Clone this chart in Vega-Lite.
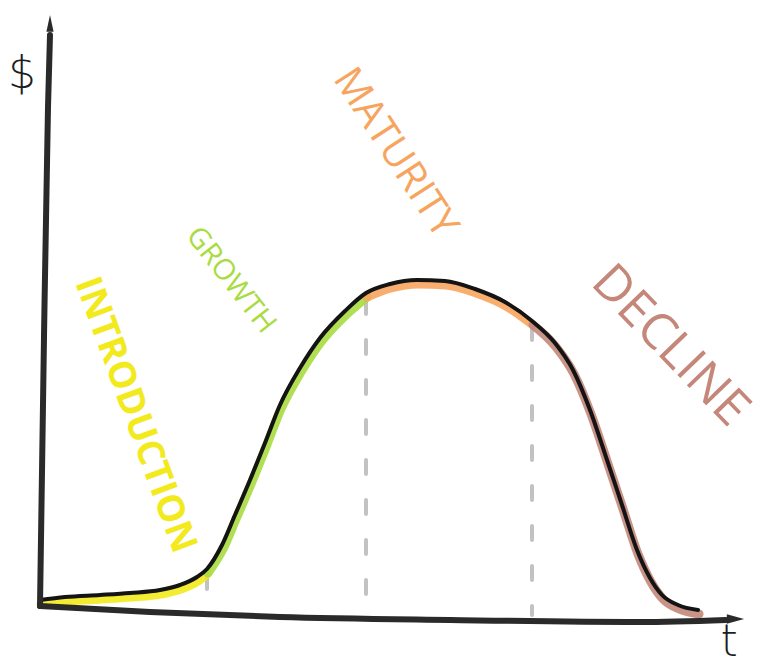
{
  "$schema": "https://vega.github.io/schema/vega-lite/v6.json",
  "autosize": {"type": "fit", "contains": "padding"},
  "width": 774,
  "height": 667,
  "padding": 0,
  "background": "#ffffff",
  "config": {"view": {"stroke": null}},
  "datasets": {
    "curve": [
      {"t": 40, "v": 67, "phase": "intro"},
      {"t": 65, "v": 70, "phase": "intro"},
      {"t": 100, "v": 72, "phase": "intro"},
      {"t": 130, "v": 74, "phase": "intro"},
      {"t": 160, "v": 77, "phase": "intro"},
      {"t": 180, "v": 82, "phase": "intro"},
      {"t": 197, "v": 90, "phase": "intro"},
      {"t": 207, "v": 98, "phase": "intro"},
      {"t": 207, "v": 98, "phase": "growth"},
      {"t": 222, "v": 122, "phase": "growth"},
      {"t": 235, "v": 152, "phase": "growth"},
      {"t": 250, "v": 187, "phase": "growth"},
      {"t": 265, "v": 224, "phase": "growth"},
      {"t": 280, "v": 262, "phase": "growth"},
      {"t": 300, "v": 299, "phase": "growth"},
      {"t": 320, "v": 329, "phase": "growth"},
      {"t": 345, "v": 356, "phase": "growth"},
      {"t": 366, "v": 374, "phase": "growth"},
      {"t": 366, "v": 374, "phase": "maturity"},
      {"t": 390, "v": 383, "phase": "maturity"},
      {"t": 417, "v": 387, "phase": "maturity"},
      {"t": 445, "v": 386, "phase": "maturity"},
      {"t": 475, "v": 378, "phase": "maturity"},
      {"t": 505, "v": 365, "phase": "maturity"},
      {"t": 532, "v": 346, "phase": "maturity"},
      {"t": 532, "v": 346, "phase": "decline"},
      {"t": 555, "v": 324, "phase": "decline"},
      {"t": 573, "v": 297, "phase": "decline"},
      {"t": 590, "v": 257, "phase": "decline"},
      {"t": 607, "v": 207, "phase": "decline"},
      {"t": 622, "v": 162, "phase": "decline"},
      {"t": 637, "v": 117, "phase": "decline"},
      {"t": 650, "v": 89, "phase": "decline"},
      {"t": 662, "v": 72, "phase": "decline"},
      {"t": 678, "v": 62, "phase": "decline"},
      {"t": 698, "v": 57, "phase": "decline"}
    ],
    "yaxis": [
      {"t": 40, "v": 61},
      {"t": 44, "v": 330},
      {"t": 48, "v": 560},
      {"t": 50, "v": 632}
    ],
    "xaxis": [
      {"t": 40, "v": 61},
      {"t": 150, "v": 55},
      {"t": 280, "v": 50},
      {"t": 450, "v": 47},
      {"t": 640, "v": 45},
      {"t": 726, "v": 47}
    ],
    "dividers": [
      {"t": 207, "top": 92, "bottom": 53},
      {"t": 366, "top": 367, "bottom": 55},
      {"t": 532, "top": 341, "bottom": 52}
    ],
    "labels": [
      {"label": "INTRODUCTION", "t": 135, "v": 252, "phase": "intro"},
      {"label": "GROWTH", "t": 231, "v": 387, "phase": "growth"},
      {"label": "MATURITY", "t": 395, "v": 514, "phase": "maturity"},
      {"label": "DECLINE", "t": 670, "v": 321, "phase": "decline"},
      {"label": "$", "t": 22, "v": 592, "phase": "axis"},
      {"label": "t", "t": 729, "v": 24, "phase": "axis"}
    ]
  },
  "layer": [
    {
      "data": {"name": "dividers"},
      "mark": {"type": "rule", "color": "#c2c2c2", "strokeWidth": 4, "strokeDash": [14, 26], "strokeCap": "round"},
      "encoding": {
        "x": {"field": "t", "type": "quantitative", "scale": {"domain": [0, 774], "nice": false, "zero": false}, "axis": null},
        "y": {"field": "top", "type": "quantitative", "scale": {"domain": [0, 667], "nice": false, "zero": false}, "axis": null},
        "y2": {"field": "bottom"}
      }
    },
    {
      "data": {"name": "curve"},
      "mark": {"type": "line", "strokeWidth": 9, "interpolate": "monotone", "yOffset": 4, "xOffset": 1, "strokeCap": "round", "opacity": 0.9},
      "encoding": {
        "x": {"field": "t", "type": "quantitative", "scale": {"domain": [0, 774], "nice": false, "zero": false}, "axis": null},
        "y": {"field": "v", "type": "quantitative", "scale": {"domain": [0, 667], "nice": false, "zero": false}, "axis": null},
        "color": {"field": "phase", "type": "nominal", "legend": null, "scale": {"domain": ["intro", "growth", "maturity", "decline", "axis"], "range": ["#f2ea1c", "#a8dc40", "#f7a55e", "#c4877a", "#1e1e1e"]}},
        "order": {"field": "t", "type": "quantitative"}
      }
    },
    {
      "data": {"name": "curve"},
      "transform": [{"aggregate": [{"op": "mean", "field": "v", "as": "v"}], "groupby": ["t"]}],
      "mark": {"type": "line", "strokeWidth": 4, "interpolate": "monotone", "color": "#141414", "strokeCap": "round"},
      "encoding": {
        "x": {"field": "t", "type": "quantitative", "scale": {"domain": [0, 774], "nice": false, "zero": false}, "axis": null},
        "y": {"field": "v", "type": "quantitative", "scale": {"domain": [0, 667], "nice": false, "zero": false}, "axis": null},
        "order": {"field": "t", "type": "quantitative"}
      }
    },
    {
      "data": {"name": "yaxis"},
      "mark": {"type": "line", "strokeWidth": 6, "interpolate": "monotone", "color": "#2a2a2a", "strokeCap": "round"},
      "encoding": {
        "x": {"field": "t", "type": "quantitative", "scale": {"domain": [0, 774], "nice": false, "zero": false}, "axis": null},
        "y": {"field": "v", "type": "quantitative", "scale": {"domain": [0, 667], "nice": false, "zero": false}, "axis": null},
        "order": {"field": "v", "type": "quantitative"}
      }
    },
    {
      "data": {"name": "xaxis"},
      "mark": {"type": "line", "strokeWidth": 6, "interpolate": "monotone", "color": "#2a2a2a", "strokeCap": "round"},
      "encoding": {
        "x": {"field": "t", "type": "quantitative", "scale": {"domain": [0, 774], "nice": false, "zero": false}, "axis": null},
        "y": {"field": "v", "type": "quantitative", "scale": {"domain": [0, 667], "nice": false, "zero": false}, "axis": null},
        "order": {"field": "t", "type": "quantitative"}
      }
    },
    {
      "data": {"values": [{"t": 50, "v": 640}]},
      "mark": {"type": "point", "shape": "M0,-1.5L0.45,0.6L-0.45,0.6Z", "size": 256, "filled": true, "color": "#2a2a2a", "opacity": 1},
      "encoding": {
        "x": {"field": "t", "type": "quantitative", "scale": {"domain": [0, 774], "nice": false, "zero": false}, "axis": null},
        "y": {"field": "v", "type": "quantitative", "scale": {"domain": [0, 667], "nice": false, "zero": false}, "axis": null}
      }
    },
    {
      "data": {"values": [{"t": 732, "v": 48}]},
      "mark": {"type": "point", "shape": "M1.4,0L-0.6,-0.55L-0.6,0.55Z", "size": 300, "filled": true, "color": "#2a2a2a", "opacity": 1},
      "encoding": {
        "x": {"field": "t", "type": "quantitative", "scale": {"domain": [0, 774], "nice": false, "zero": false}, "axis": null},
        "y": {"field": "v", "type": "quantitative", "scale": {"domain": [0, 667], "nice": false, "zero": false}, "axis": null}
      }
    },
    {
      "data": {"name": "labels"},
      "transform": [{"filter": "datum.phase === 'intro'"}],
      "mark": {"type": "text", "angle": 70, "fontSize": 37, "font": "Open Sans", "fontWeight": "bold", "align": "center", "baseline": "middle"},
      "encoding": {
        "x": {"field": "t", "type": "quantitative", "scale": {"domain": [0, 774], "nice": false, "zero": false}, "axis": null},
        "y": {"field": "v", "type": "quantitative", "scale": {"domain": [0, 667], "nice": false, "zero": false}, "axis": null},
        "text": {"field": "label"},
        "color": {"field": "phase", "type": "nominal", "legend": null, "scale": {"domain": ["intro", "growth", "maturity", "decline", "axis"], "range": ["#f2ea1c", "#a8dc40", "#f7a55e", "#c4877a", "#1e1e1e"]}}
      }
    },
    {
      "data": {"name": "labels"},
      "transform": [{"filter": "datum.phase === 'growth'"}],
      "mark": {"type": "text", "angle": 52, "fontSize": 29, "font": "Open Sans", "align": "center", "baseline": "middle"},
      "encoding": {
        "x": {"field": "t", "type": "quantitative", "scale": {"domain": [0, 774], "nice": false, "zero": false}, "axis": null},
        "y": {"field": "v", "type": "quantitative", "scale": {"domain": [0, 667], "nice": false, "zero": false}, "axis": null},
        "text": {"field": "label"},
        "color": {"field": "phase", "type": "nominal", "legend": null, "scale": {"domain": ["intro", "growth", "maturity", "decline", "axis"], "range": ["#f2ea1c", "#a8dc40", "#f7a55e", "#c4877a", "#1e1e1e"]}}
      }
    },
    {
      "data": {"name": "labels"},
      "transform": [{"filter": "datum.phase === 'maturity'"}],
      "mark": {"type": "text", "angle": 57, "fontSize": 40, "font": "Open Sans", "align": "center", "baseline": "middle"},
      "encoding": {
        "x": {"field": "t", "type": "quantitative", "scale": {"domain": [0, 774], "nice": false, "zero": false}, "axis": null},
        "y": {"field": "v", "type": "quantitative", "scale": {"domain": [0, 667], "nice": false, "zero": false}, "axis": null},
        "text": {"field": "label"},
        "color": {"field": "phase", "type": "nominal", "legend": null, "scale": {"domain": ["intro", "growth", "maturity", "decline", "axis"], "range": ["#f2ea1c", "#a8dc40", "#f7a55e", "#c4877a", "#1e1e1e"]}}
      }
    },
    {
      "data": {"name": "labels"},
      "transform": [{"filter": "datum.phase === 'decline'"}],
      "mark": {"type": "text", "angle": 46, "fontSize": 50, "font": "Open Sans", "align": "center", "baseline": "middle"},
      "encoding": {
        "x": {"field": "t", "type": "quantitative", "scale": {"domain": [0, 774], "nice": false, "zero": false}, "axis": null},
        "y": {"field": "v", "type": "quantitative", "scale": {"domain": [0, 667], "nice": false, "zero": false}, "axis": null},
        "text": {"field": "label"},
        "color": {"field": "phase", "type": "nominal", "legend": null, "scale": {"domain": ["intro", "growth", "maturity", "decline", "axis"], "range": ["#f2ea1c", "#a8dc40", "#f7a55e", "#c4877a", "#1e1e1e"]}}
      }
    },
    {
      "data": {"name": "labels"},
      "transform": [{"filter": "datum.phase === 'axis'"}],
      "mark": {"type": "text", "fontSize": 44, "font": "DejaVu Sans", "fontWeight": 300, "align": "center", "baseline": "middle"},
      "encoding": {
        "x": {"field": "t", "type": "quantitative", "scale": {"domain": [0, 774], "nice": false, "zero": false}, "axis": null},
        "y": {"field": "v", "type": "quantitative", "scale": {"domain": [0, 667], "nice": false, "zero": false}, "axis": null},
        "text": {"field": "label"},
        "color": {"field": "phase", "type": "nominal", "legend": null, "scale": {"domain": ["intro", "growth", "maturity", "decline", "axis"], "range": ["#f2ea1c", "#a8dc40", "#f7a55e", "#c4877a", "#1e1e1e"]}}
      }
    }
  ]
}
